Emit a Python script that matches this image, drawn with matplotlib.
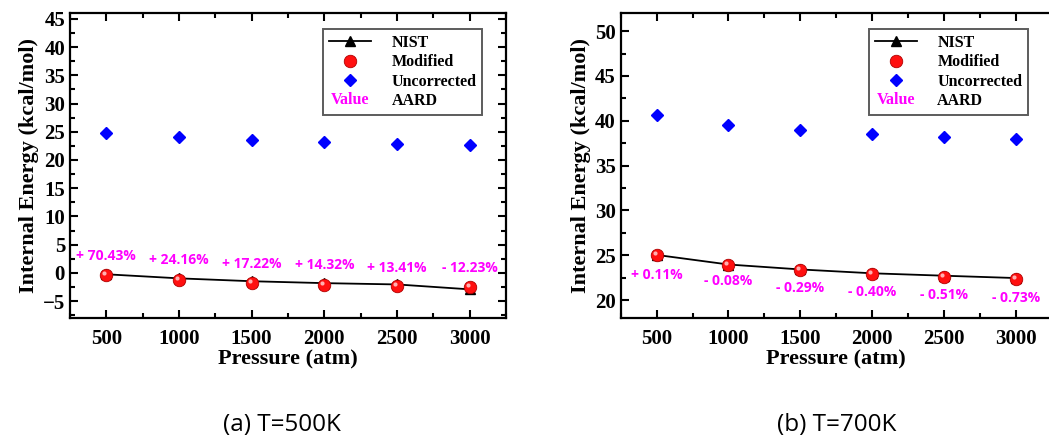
import matplotlib
matplotlib.use('Agg')
import matplotlib.pyplot as plt
from matplotlib.text import Text
from matplotlib.lines import Line2D
from matplotlib.legend_handler import HandlerBase
from matplotlib.ticker import MultipleLocator
import matplotlib.transforms as mtransforms

pressure = [500, 1000, 1500, 2000, 2500, 3000]

# T = 500 K
nist_500 = [-0.25, -0.97, -1.48, -1.82, -2.05, -2.92]
mod_500 = [-0.43, -1.20, -1.73, -2.08, -2.33, -2.56]
unc_500 = [24.75, 24.05, 23.5, 23.2, 22.9, 22.7]
aard_500 = ['+ 70.43%', '+ 24.16%', '+ 17.22%', '+ 14.32%', '+ 13.41%', '- 12.23%']
lab_y_500 = [3.0, 2.35, 1.5, 1.4, 0.9, 0.9]

# T = 700 K
nist_700 = [25.04, 23.97, 23.42, 22.99, 22.72, 22.46]
mod_700 = [25.07, 23.95, 23.35, 22.90, 22.60, 22.30]
unc_700 = [40.68, 39.56, 38.97, 38.52, 38.18, 37.96]
aard_700 = ['+ 0.11%', '- 0.08%', '- 0.29%', '- 0.40%', '- 0.51%', '- 0.73%']
lab_y_700 = [22.83, 22.16, 21.4, 20.9, 20.55, 20.2]

SERIF = 'Liberation Serif'
SANS = 'Open Sans'
MAGENTA = '#ff00ff'


class TextHandler(HandlerBase):
    def create_artists(self, legend, orig_handle, xdescent, ydescent,
                       width, height, fontsize, trans):
        t = Text(width / 2 - xdescent, height / 2 - ydescent,
                 orig_handle.get_text(), ha='center', va='center',
                 color=MAGENTA, fontweight='bold', family=SERIF,
                 fontsize=fontsize, transform=trans)
        return [t]


def panel(ax, fig, nist, mod, unc, labels, lab_y, ylim, right_ticks=True):
    ax.plot(pressure, nist, color='black', lw=1.3, marker='^', ms=7,
            mfc='black', zorder=3)
    ax.plot(pressure, mod, ls='none', marker='o', ms=9, mfc='#ff1010',
            mec='#b00000', mew=0.6, zorder=4)
    # small highlight to make the balls look shaded
    off = mtransforms.ScaledTranslation(-1.5 / 72, 1.5 / 72, fig.dpi_scale_trans)
    ax.plot(pressure, mod, ls='none', marker='o', ms=3, mfc='#ffb0b0',
            mec='none', zorder=5, transform=ax.transData + off)
    ax.plot(pressure, unc, ls='none', marker='D', ms=6.5, mfc='#0000ff',
            mec='#0000ff', zorder=3)
    for x, y, s in zip(pressure, lab_y, labels):
        ax.text(x, y, s, color=MAGENTA, fontsize=10, family=SANS,
                fontweight='bold', ha='center', va='center', zorder=6)

    ax.set_xlim(250, 3250)
    ax.set_ylim(*ylim)
    ax.set_xticks(pressure)
    ax.xaxis.set_minor_locator(MultipleLocator(250))
    ax.yaxis.set_major_locator(MultipleLocator(5))
    ax.yaxis.set_minor_locator(MultipleLocator(2.5))
    ax.tick_params(which='both', direction='in', top=True, right=right_ticks,
                   width=1.5, labelsize=15)
    ax.tick_params(which='major', length=6)
    ax.tick_params(which='minor', length=3.5)
    ax.tick_params(axis='x', which='major', pad=8)
    for lab in ax.get_xticklabels() + ax.get_yticklabels():
        lab.set_family(SERIF)
        lab.set_fontweight('bold')
    for sp in ax.spines.values():
        sp.set_linewidth(1.6)
    ax.set_xlabel('Pressure (atm)', family=SERIF, fontweight='bold',
                  fontsize=16, labelpad=0)
    ax.set_ylabel('Internal Energy (kcal/mol)', family=SERIF,
                  fontweight='bold', fontsize=16, labelpad=3)

    h_nist = Line2D([], [], color='black', lw=1.3, marker='^', ms=7)
    h_mod = Line2D([], [], ls='none', marker='o', ms=9, mfc='#ff1010',
                   mec='#b00000', mew=0.6)
    h_unc = Line2D([], [], ls='none', marker='D', ms=6.5, mfc='#0000ff',
                   mec='#0000ff')
    h_val = Text(0, 0, 'Value')
    leg = ax.legend([h_nist, h_mod, h_unc, h_val],
                    ['NIST', 'Modified', 'Uncorrected', 'AARD'],
                    handler_map={Text: TextHandler()},
                    loc='upper right', bbox_to_anchor=(0.945, 0.948),
                    borderaxespad=0,
                    prop={'family': SERIF, 'weight': 'bold', 'size': 11.5},
                    frameon=True, fancybox=False, edgecolor='#333333',
                    handlelength=2.6, handletextpad=1.3, labelspacing=0.22,
                    borderpad=0.35)
    leg.get_frame().set_linewidth(1.4)


fig = plt.figure(figsize=(10.49, 4.36), dpi=100)
ax1 = fig.add_axes([0.0667, 0.2706, 0.4156, 0.699])
ax2 = fig.add_axes([0.5917, 0.2706, 0.4108, 0.699])

panel(ax1, fig, nist_500, mod_500, unc_500, aard_500, lab_y_500, (-8, 46))
panel(ax2, fig, nist_700, mod_700, unc_700, aard_700, lab_y_700, (18, 52),
      right_ticks=False)

fig.text(0.2685, 0.025, '(a) T=500K', family=SANS, fontsize=17.5,
         ha='center', va='center')
fig.text(0.798, 0.025, '(b) T=700K', family=SANS, fontsize=17.5,
         ha='center', va='center')

fig.savefig('out.png', dpi=100)
